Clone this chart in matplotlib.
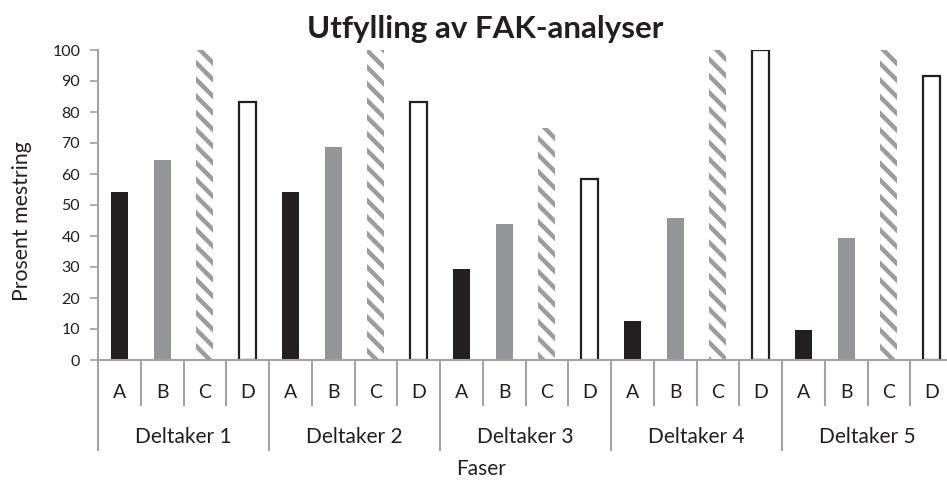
import matplotlib
matplotlib.use("Agg")
import matplotlib.pyplot as plt
import numpy as np

plt.rcParams['font.family'] = ['Lato', 'DejaVu Sans']
plt.rcParams['hatch.linewidth'] = 3.2

participants = ["Deltaker 1", "Deltaker 2", "Deltaker 3", "Deltaker 4", "Deltaker 5"]
phases = ["A", "B", "C", "D"]
values = {
    "Deltaker 1": [54.2, 64.6, 100, 83.3],
    "Deltaker 2": [54.2, 68.8, 100, 83.3],
    "Deltaker 3": [29.2, 43.8, 75.0, 58.3],
    "Deltaker 4": [12.5, 45.8, 100, 100],
    "Deltaker 5": [9.7, 39.3, 100, 91.7],
}
title = "Utfylling av FAK-analyser"
ylabel = "Prosent mestring"
xlabel = "Faser"
yticks = [0, 10, 20, 30, 40, 50, 60, 70, 80, 90, 100]

txt = '#231f20'
axis_gray = '#a3a3a3'
styles = {
    "A": dict(color='#231f20', linewidth=0),
    "B": dict(color='#939598', linewidth=0),
    "C": dict(facecolor='white', edgecolor='#9d9d9d', hatch='\\\\', linewidth=0),
    "D": dict(facecolor='white', edgecolor='#231f20', linewidth=1.6),
}

fig = plt.figure(figsize=(9.47, 4.84), dpi=100)
W, H = 947, 484
x0, x1 = 98, 953
y0, y1 = 360, 50
ax = fig.add_axes([x0 / W, (H - y0) / H, (x1 - x0) / W, (y0 - y1) / H])

n = len(participants) * len(phases)
for gi, p in enumerate(participants):
    for pi, ph in enumerate(phases):
        xi = gi * len(phases) + pi
        ax.bar(xi, values[p][pi], width=0.4, **styles[ph])

ax.set_xlim(-0.5, n - 0.5)
ax.set_ylim(0, 100)
ax.set_yticks(yticks)
ax.set_yticklabels([str(t) for t in yticks], fontsize=11.5, color=txt)
ax.tick_params(axis='y', direction='out', length=5.8, width=1.2, color=axis_gray, pad=7)
ax.set_xticks([])
for s in ['top', 'right']:
    ax.spines[s].set_visible(False)
for s in ['left', 'bottom']:
    ax.spines[s].set_color(axis_gray)
    ax.spines[s].set_linewidth(1.5)

ph_px = y0 - y1
trans = ax.get_xaxis_transform()
# category separators
for k in range(n + 1):
    xb = k - 0.5
    depth = 90 if k % len(phases) == 0 else 45
    ax.plot([xb, xb], [0, -depth / ph_px], transform=trans, color=axis_gray,
            linewidth=1.5, clip_on=False)
for k in range(n):
    ax.text(k, -32 / ph_px, phases[k % len(phases)], transform=trans,
            ha='center', va='center', fontsize=14, color=txt)
for gi, p in enumerate(participants):
    xc = gi * len(phases) + (len(phases) - 1) / 2
    ax.text(xc, -77 / ph_px, p, transform=trans, ha='center', va='center',
            fontsize=15, color=txt)

fig.text(481 / W, 1 - 469 / H, xlabel, ha='center', va='center', fontsize=15, color=txt)
fig.text(22 / W, 1 - 221 / H, ylabel, ha='center', va='center', fontsize=15.3,
         color=txt, rotation=90)
fig.text(485 / W, 1 - 38 / H, title, ha='center', va='baseline', fontsize=22.5,
         fontweight='bold', color=txt)

fig.savefig("out.png", dpi=100)
